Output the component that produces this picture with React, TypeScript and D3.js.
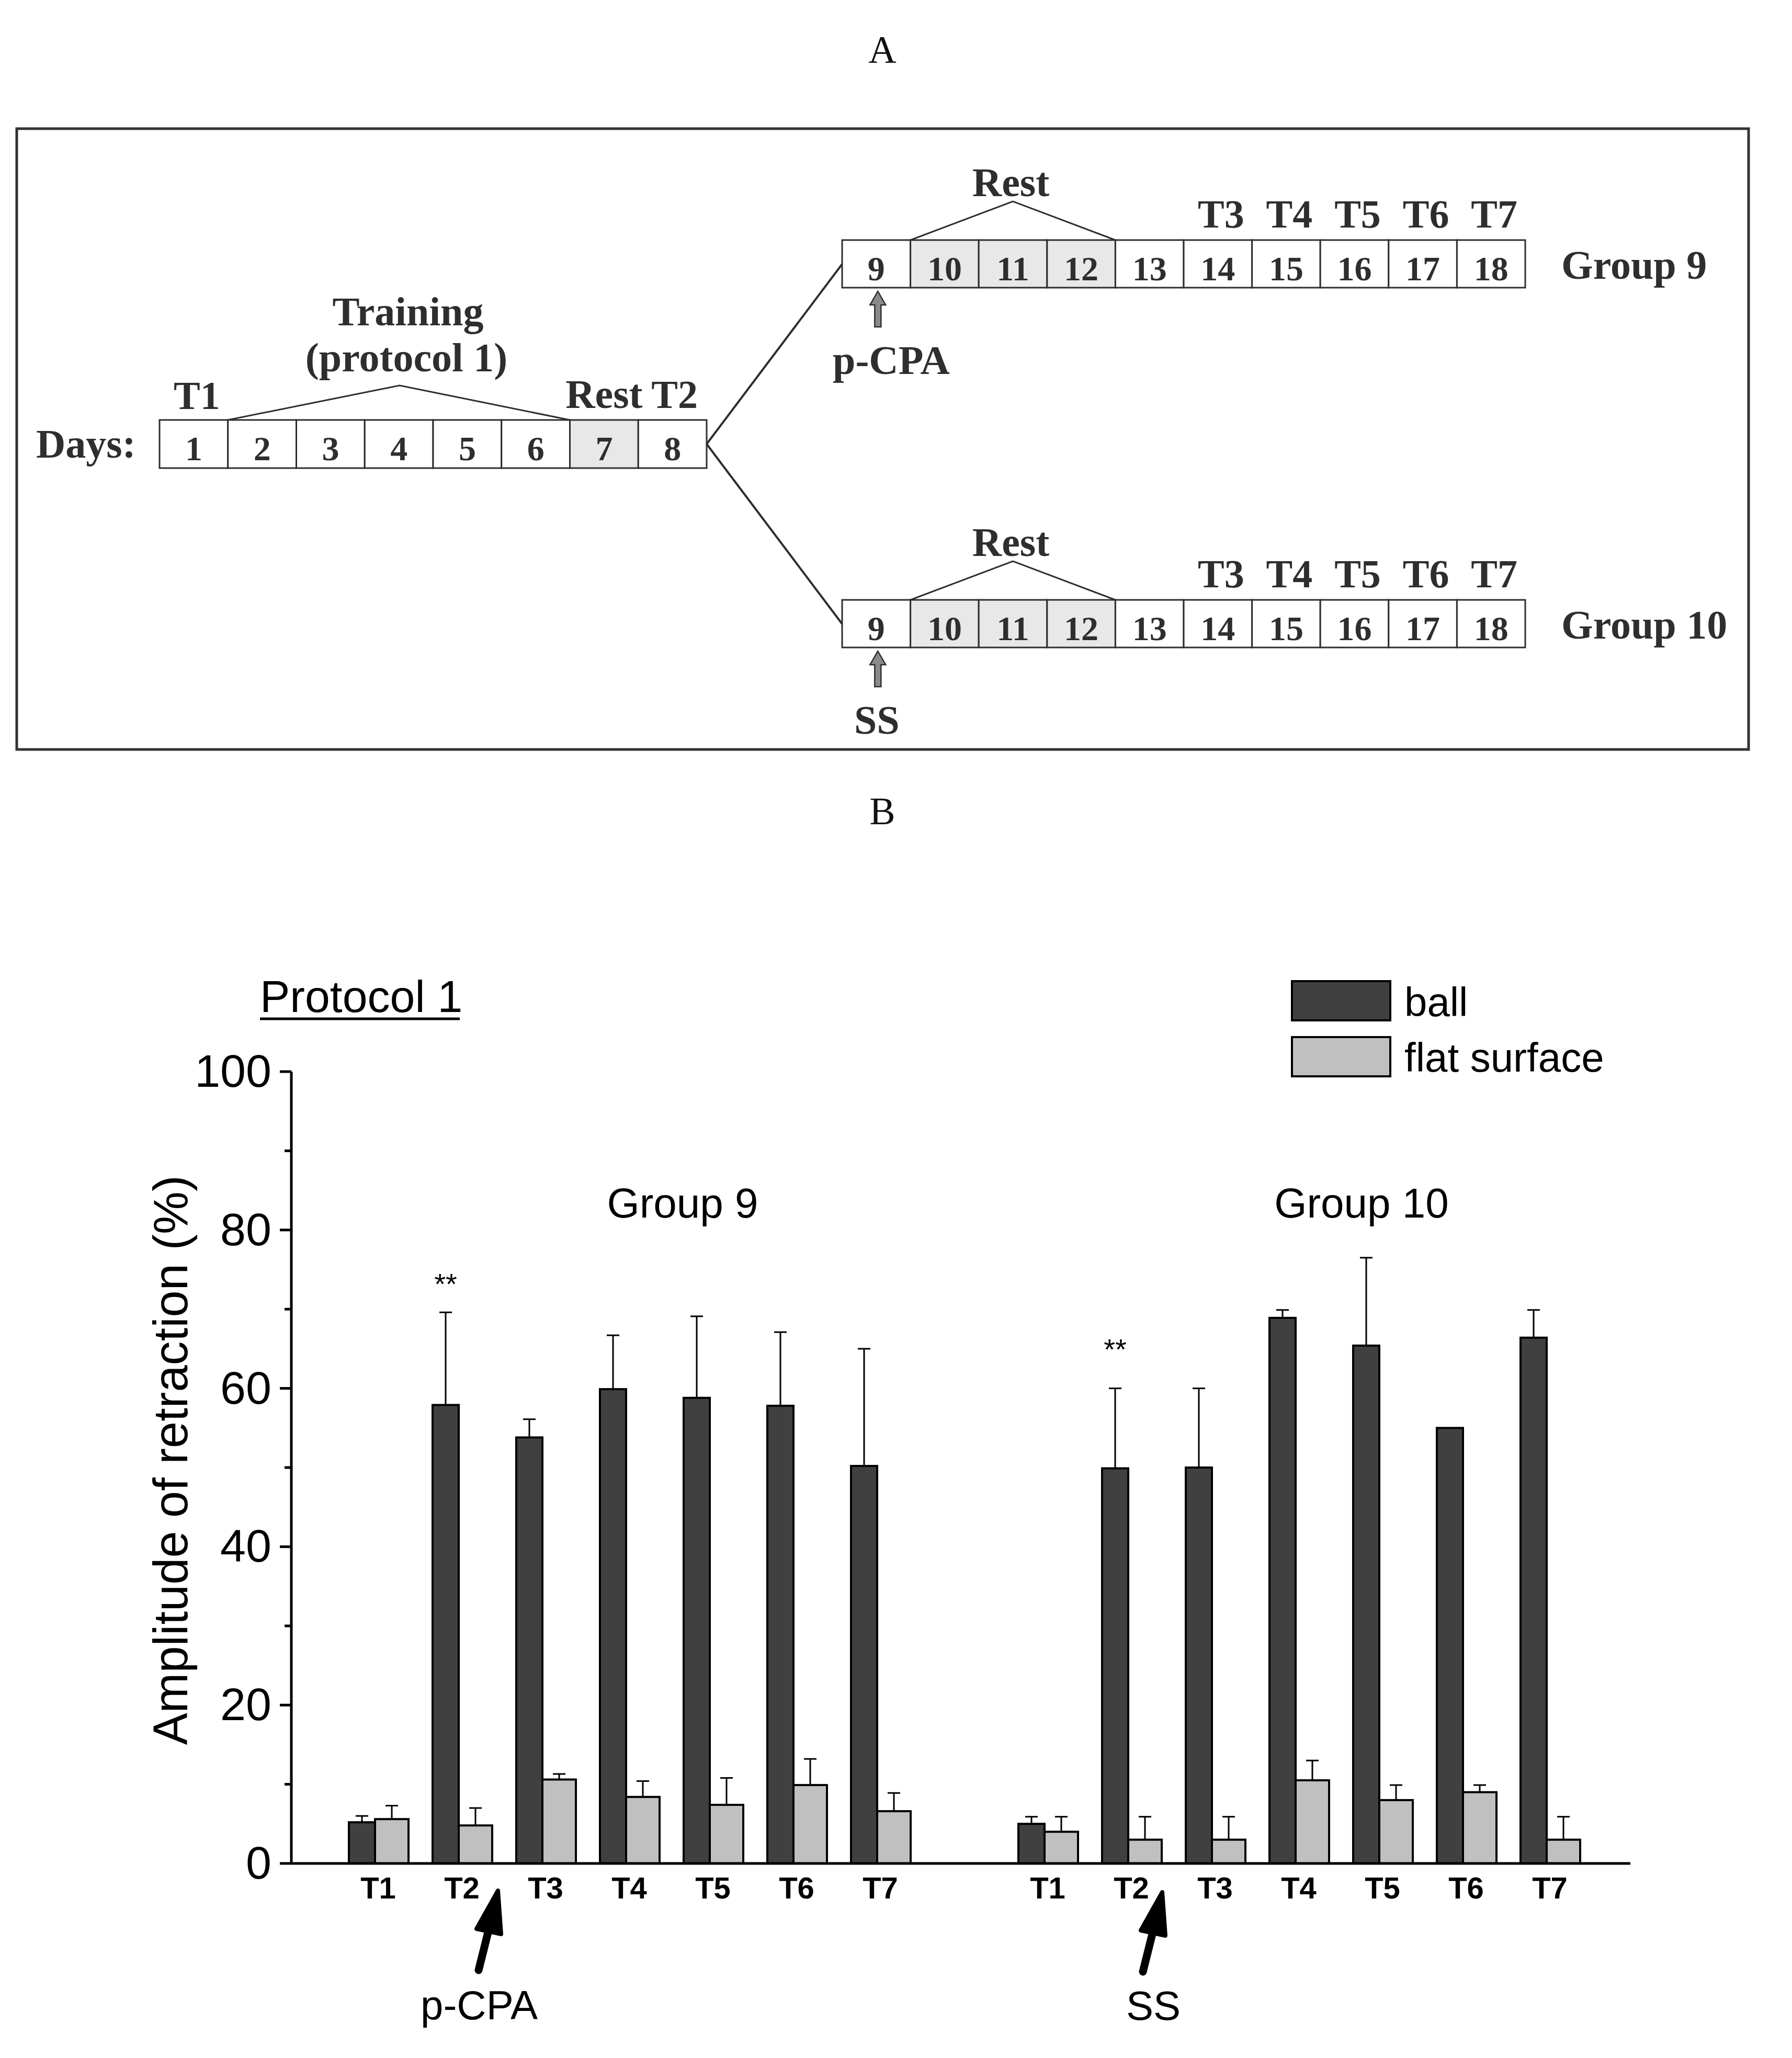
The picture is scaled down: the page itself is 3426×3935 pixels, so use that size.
import React from 'react';
import * as d3 from 'd3';

// ---- data ----
const trials = ['T1', 'T2', 'T3', 'T4', 'T5', 'T6', 'T7'];
const groupNames = ['Group 9', 'Group 10'];
const drugs = ['p-CPA', 'SS'];

const group9Ball = [5.2, 57.9, 53.8, 59.9, 58.8, 57.8, 50.2];
const group9BallErr = [0.8, 11.7, 2.3, 6.8, 10.3, 9.3, 14.8];
const group9Flat = [5.6, 4.8, 10.6, 8.4, 7.4, 9.9, 6.6];
const group9FlatErr = [1.7, 2.2, 0.7, 2.0, 3.4, 3.3, 2.3];

const group10Ball = [5.0, 49.9, 50.0, 68.9, 65.4, 55.0, 66.4];
const group10BallErr = [0.9, 10.1, 10.0, 1.0, 11.1, 0, 3.5];
const group10Flat = [4.0, 3.0, 3.0, 10.5, 8.0, 9.0, 3.0];
const group10FlatErr = [1.9, 2.9, 2.9, 2.5, 1.9, 0.9, 2.9];

// "**" marks on T2 ball bars, baseline level in axis units
const sigMarkLevel = [71.9, 63.7];

const yTicks = [0, 20, 40, 60, 80, 100];
const yMinorTicks = [10, 30, 50, 70, 90];

// schedule (panel A)
const firstDays = [1, 2, 3, 4, 5, 6, 7, 8];
const laterDays = [9, 10, 11, 12, 13, 14, 15, 16, 17, 18];
const restDaysFirst = [7];
const restDaysLater = [10, 11, 12];
const testDays = [14, 15, 16, 17, 18];
const testLabels = ['T3', 'T4', 'T5', 'T6', 'T7'];

const W = 3426;
const H = 3935;
const SERIF = '"Liberation Serif", "Times New Roman", serif';
const SANS = '"Liberation Sans", Arial, sans-serif';
const INK = '#2e2e2e';

const BALL = '#404040';
const FLAT = '#c0c0c0';

// ---- panel A pieces ----
const DayRow = ({ days, rest, scale, top, h }) => (
  <g>
    {days.map((d) => (
      <g key={d}>
        <rect
          x={scale(d)}
          y={top}
          width={scale(d + 1) - scale(d)}
          height={h}
          fill={rest.includes(d) ? '#e8e8e8' : '#fff'}
          stroke={INK}
          strokeWidth={3}
        />
        <text
          x={(scale(d) + scale(d + 1)) / 2}
          y={top + 77}
          textAnchor="middle"
          fontFamily={SERIF}
          fontWeight="bold"
          fontSize={66}
          fill={INK}
        >
          {d}
        </text>
      </g>
    ))}
  </g>
);

const GrayArrow = ({ x, tip, tail }) => {
  const hw = 15;
  const hh = 26;
  const sw = 6;
  const p = [
    [x, tip],
    [x + hw, tip + hh],
    [x + sw, tip + hh],
    [x + sw, tail],
    [x - sw, tail],
    [x - sw, tip + hh],
    [x - hw, tip + hh],
  ];
  return <polygon points={p.map((q) => q.join(',')).join(' ')} fill="#8a8a8a" stroke={INK} strokeWidth={2.5} />;
};

const LaterRow = ({ top, label, drug }) => {
  const sc = d3.scaleLinear().domain([9, 19]).range([1610, 2916]);
  const h = 91;
  const restL = sc(restDaysLater[0]);
  const restR = sc(restDaysLater[restDaysLater.length - 1] + 1);
  const apexY = top - 74;
  return (
    <g>
      <DayRow days={laterDays} rest={restDaysLater} scale={sc} top={top} h={h} />
      <polyline
        points={`${restL},${top} ${(restL + restR) / 2},${apexY} ${restR},${top}`}
        fill="none"
        stroke={INK}
        strokeWidth={3}
      />
      <text x={(restL + restR) / 2 - 4} y={apexY - 10} textAnchor="middle" fontFamily={SERIF} fontWeight="bold" fontSize={78} fill={INK}>
        Rest
      </text>
      {testDays.map((d, i) => (
        <text key={d} x={(sc(d) + sc(d + 1)) / 2 + 6} y={top - 24} textAnchor="middle" fontFamily={SERIF} fontWeight="bold" fontSize={76} fill={INK}>
          {testLabels[i]}
        </text>
      ))}
      <text x={2985} y={top + 74} fontFamily={SERIF} fontWeight="bold" fontSize={78} fill={INK}>
        {label}
      </text>
      <GrayArrow x={(sc(9) + sc(10)) / 2 + 3} tip={top + 98} tail={top + 166} />
      <text
        x={drug === 'SS' ? (sc(9) + sc(10)) / 2 + 1 : 1592}
        y={top + 256}
        textAnchor={drug === 'SS' ? 'middle' : 'start'}
        fontFamily={SERIF}
        fontWeight="bold"
        fontSize={78}
        fill={INK}
      >
        {drug}
      </text>
    </g>
  );
};

const PanelA = () => {
  const sc = d3.scaleLinear().domain([1, 9]).range([305, 1351]);
  const top = 803;
  const h = 92;
  const trainL = sc(2);
  const trainR = sc(7);
  const midY = top + h / 2;
  return (
    <g>
      <text x={1687} y={120} textAnchor="middle" fontFamily={SERIF} fontSize={74} fill="#111">
        A
      </text>
      <rect x={32} y={246} width={3311} height={1187} fill="none" stroke="#333" strokeWidth={5} />

      <text x={69} y={875} fontFamily={SERIF} fontWeight="bold" fontSize={78} fill={INK}>
        Days:
      </text>
      <DayRow days={firstDays} rest={restDaysFirst} scale={sc} top={top} h={h} />
      <polyline points={`${trainL},${top} 764,737 ${trainR},${top}`} fill="none" stroke={INK} strokeWidth={3} />
      <text x={780} y={622} textAnchor="middle" fontFamily={SERIF} fontWeight="bold" fontSize={78} fill={INK}>
        Training
      </text>
      <text x={777} y={710} textAnchor="middle" fontFamily={SERIF} fontWeight="bold" fontSize={78} fill={INK}>
        (protocol 1)
      </text>
      <text x={(sc(1) + sc(2)) / 2 + 6} y={782} textAnchor="middle" fontFamily={SERIF} fontWeight="bold" fontSize={76} fill={INK}>
        T1
      </text>
      <text x={(sc(7) + sc(8)) / 2} y={780} textAnchor="middle" fontFamily={SERIF} fontWeight="bold" fontSize={78} fill={INK}>
        Rest
      </text>
      <text x={(sc(8) + sc(9)) / 2 + 4} y={780} textAnchor="middle" fontFamily={SERIF} fontWeight="bold" fontSize={76} fill={INK}>
        T2
      </text>

      <line x1={sc(9)} y1={midY} x2={1610} y2={505} stroke={INK} strokeWidth={4} />
      <line x1={sc(9)} y1={midY} x2={1610} y2={1193} stroke={INK} strokeWidth={4} />

      <LaterRow top={459} label={groupNames[0]} drug={drugs[0]} />
      <LaterRow top={1147} label={groupNames[1]} drug={drugs[1]} />
    </g>
  );
};

// ---- panel B ----
const BlackArrow = ({ tx, ty }) => {
  // shape measured relative to the tail point
  const head = [
    [37, -152],
    [-4, -79],
    [43, -69],
  ];
  return (
    <g transform={`translate(${tx},${ty})`}>
      <line x1={0} y1={0} x2={20} y2={-80} stroke="#000" strokeWidth={15} strokeLinecap="round" />
      <polygon
        points={head.map((q) => q.join(',')).join(' ')}
        fill="#000"
        stroke="#000"
        strokeWidth={8}
        strokeLinejoin="round"
      />
    </g>
  );
};

const PanelB = () => {
  const y = d3.scaleLinear().domain([0, 100]).range([3563, 2049]);
  const x = d3.scaleLinear().domain([0, 16]).range([557, 3117]);
  const ballW = 50;
  const flatW = 64;

  const groups = [
    { offset: 0, ball: group9Ball, ballErr: group9BallErr, flat: group9Flat, flatErr: group9FlatErr },
    { offset: 8, ball: group10Ball, ballErr: group10BallErr, flat: group10Flat, flatErr: group10FlatErr },
  ];

  const errBar = (cx, v, e, key) =>
    e > 0 ? (
      <g key={key}>
        <line x1={cx} x2={cx} y1={y(v)} y2={y(v + e)} stroke="#000" strokeWidth={3} />
        <line x1={cx - 12} x2={cx + 12} y1={y(v + e)} y2={y(v + e)} stroke="#000" strokeWidth={3} />
      </g>
    ) : null;

  return (
    <g>
      <text x={1687} y={1576} textAnchor="middle" fontFamily={SERIF} fontSize={74} fill="#111">
        B
      </text>

      <text x={497} y={1935} fontFamily={SANS} fontSize={86} fill="#000">
        Protocol 1
      </text>
      <line x1={497} x2={879} y1={1948} y2={1948} stroke="#000" strokeWidth={5} />

      {/* legend */}
      <rect x={2470} y={1876} width={188} height={75} fill={BALL} stroke="#000" strokeWidth={4} />
      <text x={2685} y={1943} fontFamily={SANS} fontSize={78} fill="#000">
        ball
      </text>
      <rect x={2470} y={1983} width={188} height={75} fill={FLAT} stroke="#000" strokeWidth={4} />
      <text x={2685} y={2049} fontFamily={SANS} fontSize={78} fill="#000">
        flat surface
      </text>

      {/* group titles */}
      <text x={1305} y={2328} textAnchor="middle" fontFamily={SANS} fontSize={80} fill="#000">
        {groupNames[0]}
      </text>
      <text x={2603} y={2328} textAnchor="middle" fontFamily={SANS} fontSize={80} fill="#000">
        {groupNames[1]}
      </text>

      {/* bars */}
      {groups.map((g, gi) =>
        trials.map((t, i) => {
          const c = x(g.offset + i + 1);
          return (
            <g key={`${gi}-${t}`}>
              <rect x={c - ballW} y={y(g.ball[i])} width={ballW} height={y(0) - y(g.ball[i])} fill={BALL} stroke="#000" strokeWidth={4} />
              <rect x={c} y={y(g.flat[i])} width={flatW} height={y(0) - y(g.flat[i])} fill={FLAT} stroke="#000" strokeWidth={4} />
              {errBar(c - ballW / 2, g.ball[i], g.ballErr[i], 'b')}
              {errBar(c + flatW / 2, g.flat[i], g.flatErr[i], 'f')}
              <text x={c + 6} y={3630} textAnchor="middle" fontFamily={SANS} fontWeight="bold" fontSize={58} fill="#000">
                {t}
              </text>
            </g>
          );
        })
      )}

      {/* significance marks on T2 ball bars */}
      {groups.map((g, gi) => (
        <text
          key={gi}
          x={x(g.offset + 2) - ballW / 2}
          y={y(sigMarkLevel[gi])}
          textAnchor="middle"
          fontFamily={SANS}
          fontSize={56}
          fill="#000"
        >
          **
        </text>
      ))}

      {/* axes */}
      <line x1={x(0)} x2={x(16)} y1={y(0)} y2={y(0)} stroke="#000" strokeWidth={5} />
      <line x1={x(0)} x2={x(0)} y1={y(0) + 2} y2={y(100)} stroke="#000" strokeWidth={5} />
      {yTicks.map((t) => (
        <g key={t}>
          <line x1={x(0) - 22} x2={x(0)} y1={y(t)} y2={y(t)} stroke="#000" strokeWidth={5} />
          <text x={519} y={y(t) + 29} textAnchor="end" fontFamily={SANS} fontSize={88} fill="#000">
            {t}
          </text>
        </g>
      ))}
      {yMinorTicks.map((t) => (
        <line key={t} x1={x(0) - 13} x2={x(0)} y1={y(t)} y2={y(t)} stroke="#000" strokeWidth={5} />
      ))}
      <text transform="translate(358,2792) rotate(-90)" textAnchor="middle" fontFamily={SANS} fontSize={92} fill="#000">
        Amplitude of retraction (%)
      </text>

      {/* treatment arrows */}
      <BlackArrow tx={915} ty={3767} />
      <BlackArrow tx={2185} ty={3770} />
      <text x={916} y={3861} textAnchor="middle" fontFamily={SANS} fontSize={78} fill="#000">
        {drugs[0]}
      </text>
      <text x={2205} y={3862} textAnchor="middle" fontFamily={SANS} fontSize={78} fill="#000">
        {drugs[1]}
      </text>
    </g>
  );
};

export default function App() {
  return (
    <svg
      width={W}
      height={H}
      viewBox={`0 0 ${W} ${H}`}
      style={{ position: 'absolute', left: 0, top: 0, background: '#fff' }}
    >
      <rect width={W} height={H} fill="#fff" />
      <PanelA />
      <PanelB />
    </svg>
  );
}
